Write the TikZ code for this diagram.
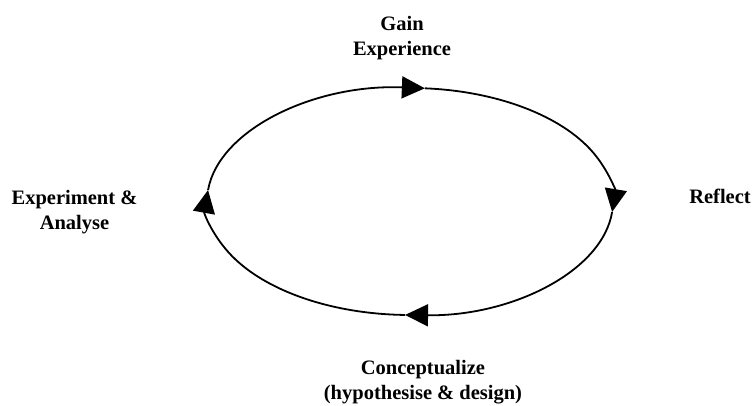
\documentclass[tikz,border=0pt]{standalone}
\usepackage{fontspec}
\setmainfont{Liberation Serif}
\usetikzlibrary{arrows.meta,calc}
\begin{document}
\begin{tikzpicture}[x=1pt,y=1pt,
  lbl/.style={align=center,inner sep=0pt,font=\fontsize{20.5}{25}\selectfont\bfseries},
  cyc/.style={line width=1.8pt,-{Triangle[length=23pt,width=22pt]}}]
\useasboundingbox (0,0) rectangle (755,405);
\coordinate (c) at (410,203.5);
\coordinate (ttop) at ($(c)+(85.8:203 and 113.5)$);
\coordinate (tright) at ($(c)+(-5.3:203 and 113.5)$);
\coordinate (tbottom) at ($(c)+(-91.4:203 and 113.5)$);
\coordinate (tleft) at ($(c)+(174.2:203 and 113.5)$);
\node[lbl] (gain) at (402,367) {Gain\\Experience};
\node[lbl] (reflect) at (720,209) {Reflect};
\node[lbl] (concept) at (423,23) {Conceptualize\\(hypothesise \& design)};
\node[lbl] (exper) at (74.5,193) {Experiment \&\\Analyse};
\draw[cyc] (tleft) arc[start angle=174.2,end angle=85.8,x radius=203,y radius=113.5];
\draw[cyc] (ttop) arc[start angle=85.8,end angle=-5.3,x radius=203,y radius=113.5];
\draw[cyc] (tright) arc[start angle=-5.3,end angle=-91.4,x radius=203,y radius=113.5];
\draw[cyc] (tbottom) arc[start angle=-91.4,end angle=-185.8,x radius=203,y radius=113.5];
\end{tikzpicture}
\end{document}
